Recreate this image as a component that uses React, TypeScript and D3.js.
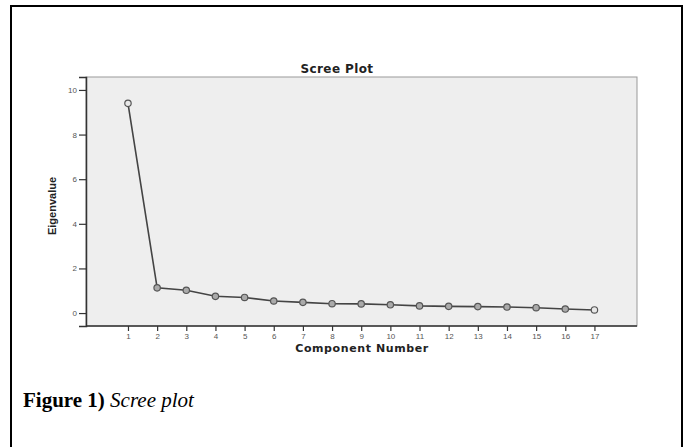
import React, { useEffect, useRef } from "react";
import * as d3 from "d3";

const components = [1, 2, 3, 4, 5, 6, 7, 8, 9, 10, 11, 12, 13, 14, 15, 16, 17];
const eigenvalues = [9.4, 1.13, 1.02, 0.75, 0.7, 0.54, 0.48, 0.42, 0.41, 0.37, 0.32, 0.3, 0.29, 0.27, 0.24, 0.18, 0.14];
const yTicks = [0, 2, 4, 6, 8, 10];
const chartTitle = "Scree Plot";
const xTitle = "Component Number";
const yTitle = "Eigenvalue";

const W = 689;
const H = 447;
const plot = { left: 86, right: 637, top: 77, bottom: 326 };

export default function App() {
  const ref = useRef<SVGSVGElement>(null);

  useEffect(() => {
    const svg = d3.select(ref.current);
    svg.selectAll("*").remove();

    const x = d3.scaleLinear().domain([-0.44, 18.46]).range([plot.left, plot.right]);
    const y = d3.scaleLinear().domain([-0.58, 10.58]).range([plot.bottom, plot.top]);

    // outer frame
    svg.append("rect")
      .attr("x", 11).attr("y", 6)
      .attr("width", 671).attr("height", H + 20)
      .attr("fill", "#fff").attr("stroke", "#000").attr("stroke-width", 2);

    // plot background
    svg.append("rect")
      .attr("x", plot.left).attr("y", plot.top)
      .attr("width", plot.right - plot.left).attr("height", plot.bottom - plot.top)
      .attr("fill", "#eeeeee").attr("stroke", "#999").attr("stroke-width", 1);

    const tickFont = "Liberation Sans, Arial, sans-serif";

    // y axis
    const yAxis = svg.append("g").attr("transform", `translate(${plot.left},0)`)
      .call(d3.axisLeft(y).tickValues(yTicks).tickSize(7).tickPadding(2).tickFormat(d3.format("d")));
    yAxis.select(".domain").attr("stroke", "#333").attr("stroke-width", 1.5);
    yAxis.selectAll(".tick line").attr("stroke", "#333").attr("stroke-width", 1.2);
    yAxis.selectAll(".tick text").attr("fill", "#555").attr("font-size", 8).attr("font-family", tickFont);

    // x axis
    const xAxis = svg.append("g").attr("transform", `translate(0,${plot.bottom})`)
      .call(d3.axisBottom(x).tickValues(components).tickSize(5).tickPadding(2).tickFormat(d3.format("d")));
    xAxis.select(".domain").attr("stroke", "#333").attr("stroke-width", 1.5)
      .attr("d", `M${plot.left},0H${plot.right}`);
    xAxis.selectAll(".tick line").attr("stroke", "#333").attr("stroke-width", 1.2);
    xAxis.selectAll(".tick text").attr("fill", "#555").attr("font-size", 8).attr("font-family", tickFont);

    // line
    const line = d3.line<number>()
      .x((_, i) => x(components[i]))
      .y((d) => y(d));
    svg.append("path")
      .datum(eigenvalues)
      .attr("d", line)
      .attr("fill", "none")
      .attr("stroke", "#444")
      .attr("stroke-width", 1.6);

    // points
    svg.append("g").selectAll("circle")
      .data(eigenvalues)
      .join("circle")
      .attr("cx", (_, i) => x(components[i]))
      .attr("cy", (d) => y(d))
      .attr("r", 3.2)
      .attr("fill", (_, i) => (i === 0 || i === components.length - 1 ? "#e8e8e8" : "#aaa"))
      .attr("stroke", "#555")
      .attr("stroke-width", 1.2);

    const boldFont = "DejaVu Sans, Verdana, sans-serif";

    // titles
    svg.append("text")
      .attr("x", 337).attr("y", 73)
      .attr("text-anchor", "middle")
      .attr("font-family", boldFont)
      .attr("font-weight", "bold").attr("font-size", 12).attr("fill", "#222")
      .attr("letter-spacing", 0.4)
      .text(chartTitle);

    svg.append("text")
      .attr("x", 362).attr("y", 352)
      .attr("text-anchor", "middle")
      .attr("font-family", boldFont)
      .attr("font-weight", "bold").attr("font-size", 11).attr("fill", "#222")
      .attr("letter-spacing", 0.6)
      .text(xTitle);

    svg.append("text")
      .attr("transform", `translate(56,206) rotate(-90)`)
      .attr("text-anchor", "middle")
      .attr("font-family", "Liberation Sans, Arial, sans-serif")
      .attr("font-weight", "bold").attr("font-size", 11).attr("fill", "#222")
      .text(yTitle);

    // caption
    const cap = svg.append("text")
      .attr("x", 23).attr("y", 407)
      .attr("font-family", "Liberation Serif, Times New Roman, serif")
      .attr("font-size", 21).attr("fill", "#000");
    cap.append("tspan").attr("font-weight", "bold").text("Figure 1)");
    cap.append("tspan").attr("font-style", "italic").text(" Scree plot");
  }, []);

  return (
    <svg
      ref={ref}
      width={W}
      height={H}
      style={{ position: "absolute", left: 0, top: 0, display: "block", background: "#fff" }}
    />
  );
}
